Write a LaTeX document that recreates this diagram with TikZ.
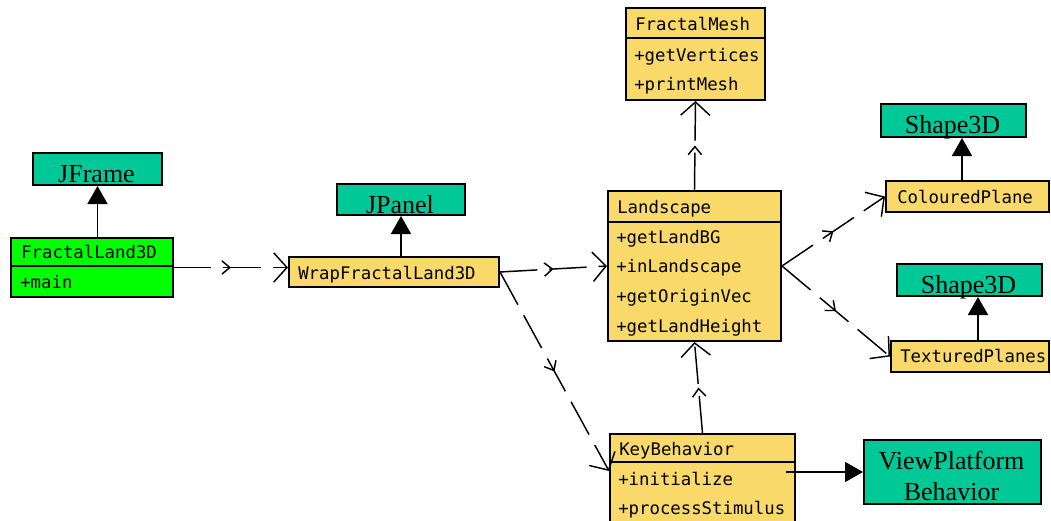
\documentclass[tikz,border=0pt]{standalone}
\usepackage{fontspec}
\setmainfont{Liberation Serif}
\newfontfamily\clsfont{DejaVu Sans Mono}
\usetikzlibrary{arrows.meta,calc,decorations.markings}
\definecolor{clsyellow}{HTML}{F9D96A}
\definecolor{libteal}{HTML}{00C896}
\definecolor{mainlime}{HTML}{00FF00}
\tikzset{
 box/.style={draw=black, line width=1.5pt, inner sep=0pt, anchor=north west},
 cls/.style={box, fill=clsyellow},
 lib/.style={box, fill=libteal},
 divider/.style={line width=1.5pt},
 mtext/.style={anchor=base west, inner sep=0pt, font=\clsfont\fontsize{13}{13}\selectfont},
 ltext/.style={anchor=base, inner sep=0pt, font=\fontsize{19.5}{19.5}\selectfont},
 inh/.style={line width=1.3pt, -{Triangle[length=13.5pt,width=15pt]}},
 dep/.style={line width=1.1pt, dash pattern=on 28pt off 9pt,
   -{Straight Barb[length=10pt,width=22pt,line width=1.1pt]},
   postaction={decorate},
   decoration={markings, mark=at position 0.5 with {\arrow{Straight Barb[length=6pt,width=10pt,line width=1.1pt]}}}},
}
\begin{document}
\begin{tikzpicture}[x=0.75pt, y=-0.75pt]
\useasboundingbox (0,0) rectangle (1051,521);
\clip (0,0) rectangle (1051,521);

% library classes
\node[lib, minimum width={129*0.75pt}, minimum height={32*0.75pt}] (jframe) at (32,152) {};
\node[ltext] (jframeT) at (96.5,182) {JFrame};
\node[lib, minimum width={128*0.75pt}, minimum height={31*0.75pt}] (jpanel) at (336,183) {};
\node[ltext] (jpanelT) at (400,213) {JPanel};
\node[lib, minimum width={145*0.75pt}, minimum height={33*0.75pt}] (shapeA) at (880,103) {};
\node[ltext] (shapeAT) at (952.5,133) {Shape3D};
\node[lib, minimum width={145*0.75pt}, minimum height={32*0.75pt}] (shapeB) at (896,263) {};
\node[ltext] (shapeBT) at (968.5,293) {Shape3D};
\node[lib, minimum width={177*0.75pt}, minimum height={64*0.75pt}] (vp) at (863,439) {};
\node[ltext] (vpT1) at (951.5,469) {ViewPlatform};
\node[ltext] (vpT2) at (951.5,500) {Behavior};

% FractalLand3D
\node[box, fill=mainlime, minimum width={162*0.75pt}, minimum height={59*0.75pt}] (fl3d) at (10,237) {};
\draw[divider] ($(fl3d.north west)+(0,29)$) -- ($(fl3d.north east)+(0,29)$);
\node[mtext] (fl3dT) at (21,258) {FractalLand3D};
\node[mtext] (fl3d1) at (20,288) {+main};

% WrapFractalLand3D
\node[cls, minimum width={210*0.75pt}, minimum height={30*0.75pt}] (wrap) at (288,256) {};
\node[mtext] (wrapT) at (298,279) {WrapFractalLand3D};

% Landscape
\node[cls, minimum width={173*0.75pt}, minimum height={150*0.75pt}] (land) at (607,190) {};
\draw[divider] ($(land.north west)+(0,32)$) -- ($(land.north east)+(0,32)$);
\node[mtext] (landT) at (617,213) {Landscape};
\node[mtext] (land1) at (616,243) {+getLandBG};
\node[mtext] (land2) at (616,272) {+inLandscape};
\node[mtext] (land3) at (616,302) {+getOriginVec};
\node[mtext] (land4) at (616,332) {+getLandHeight};

% FractalMesh
\node[cls, minimum width={139*0.75pt}, minimum height={92*0.75pt}] (mesh) at (625,7) {};
\draw[divider] ($(mesh.north west)+(0,31)$) -- ($(mesh.north east)+(0,31)$);
\node[mtext] (meshT) at (635,31) {FractalMesh};
\node[mtext] (mesh1) at (634,61.5) {+getVertices};
\node[mtext] (mesh2) at (634,90.5) {+printMesh};

% KeyBehavior
\node[cls, minimum width={185*0.75pt}, minimum height={112*0.75pt}] (kb) at (609,433) {};
\draw[divider] ($(kb.north west)+(0,29)$) -- ($(kb.north east)+(0,29)$);
\node[mtext] (kbT) at (619,455) {KeyBehavior};
\node[mtext] (kb1) at (618,485) {+initialize};
\node[mtext] (kb2) at (618,514) {+processStimulus};

% ColouredPlane, TexturedPlanes
\node[cls, minimum width={163*0.75pt}, minimum height={31*0.75pt}] (cp) at (885,180) {};
\node[mtext] (cpT) at (897,203) {ColouredPlane};
\node[cls, minimum width={158*0.75pt}, minimum height={31*0.75pt}] (tp) at (890,340) {};
\node[mtext] (tpT) at (900,362) {TexturedPlanes};

% inheritance arrows
\draw[inh] (jframe.south |- fl3d.north) -- (jframe.south);
\draw[inh] (jpanel.south |- wrap.north) -- (jpanel.south);
\coordinate (cpTop) at ($(cp.north)+(-5.5,0)$);
\draw[inh] (cpTop) -- (cpTop |- shapeA.south);
\coordinate (tpTop) at ($(tp.north)+(8,0)$);
\draw[inh] (tpTop) -- (tpTop |- shapeB.south);
\coordinate (kbOut) at ($(kb.north east)+(-10,39)$);
\draw[inh] (kbOut) -- (kbOut -| vp.west);

% dependencies
\draw[dep] (fl3d.east) -- (fl3d.east -| wrap.west);
\draw[dep] (wrap.east) -- (land.west);
\coordinate (kbIn) at ($(kb.north west)+(0,38)$);
\draw[dep] (wrap.east) -- (kbIn);
\draw[dep] (land.north) -- (mesh.south);
\draw[dep] (kb.north) -- (land.south);
\draw[dep] (land.east) -- (cp.west);
\draw[dep] (land.east) -- (tp.west);
\end{tikzpicture}
\end{document}
